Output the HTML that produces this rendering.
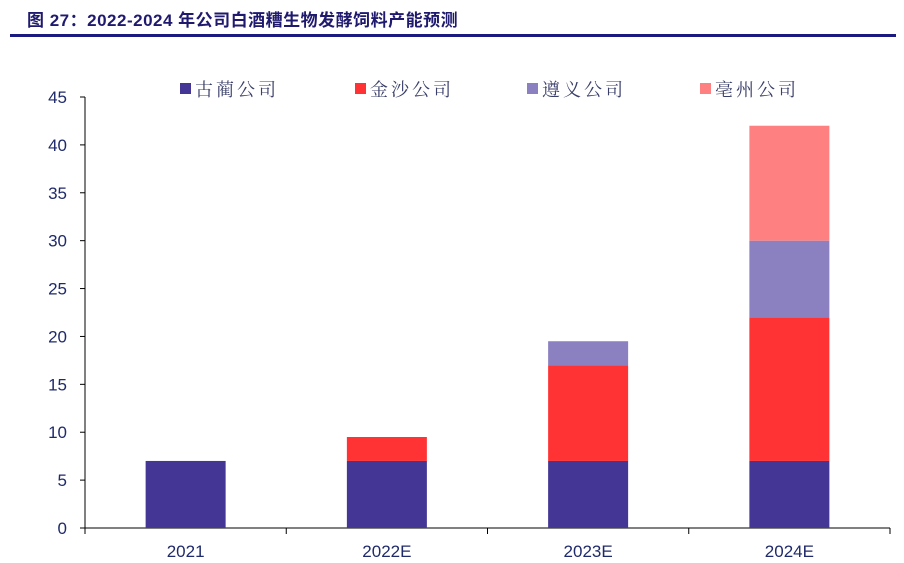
<!DOCTYPE html>
<html><head><meta charset="utf-8"><style>
body{margin:0;background:#fff;width:904px;height:563px;overflow:hidden;font-family:"Liberation Sans","Noto Sans CJK SC",sans-serif}
#title{position:absolute;left:27px;top:6px;font-size:17px;font-weight:bold;color:#1f1a6e;font-family:"Liberation Sans","Noto Sans CJK SC",sans-serif;letter-spacing:0.5px}
#rule{position:absolute;left:10px;top:34px;width:886px;height:3px;background:#1a1a80}
</style></head><body>
<div id="title">图 27：2022-2024 年公司白酒糟生物发酵饲料产能预测</div>
<div id="rule"></div>
<svg id="chart" width="904" height="563" style="position:absolute;left:0;top:0"></svg>
<script>
const categories=["2021","2022E","2023E","2024E"];
const seriesNames=["古蔺公司","金沙公司","遵义公司","亳州公司"];
const gulin=[7,7,7,7];
const jinsha=[0,2.5,10,15];
const zunyi=[0,0,2.5,8];
const bozhou=[0,0,0,12];
const yTicks=[0,5,10,15,20,25,30,35,40,45];
const colors=["#433695","#ff3333","#8b80c0","#ff8080"];
const series=[gulin,jinsha,zunyi,bozhou];
const NS="http://www.w3.org/2000/svg";
const svg=document.getElementById('chart');
const x0=85,x1=890,y0=528,yTop=97,yMax=45;
const y=v=>y0-(v/yMax)*(y0-yTop);
const band=(x1-x0)/categories.length;
const xc=i=>x0+band*(i+0.5);
function mk(t,a){const e=document.createElementNS(NS,t);for(const k in a)e.setAttribute(k,a[k]);svg.appendChild(e);return e;}
let e=mk('line',{x1:x0,y1:yTop,x2:x0,y2:y0,stroke:'#000','stroke-width':1});

e=mk('line',{x1:x0,y1:y0,x2:x1,y2:y0,stroke:'#000','stroke-width':1});

yTicks.forEach(t=>{
 let l=mk('line',{x1:x0-5,y1:y(t),x2:x0,y2:y(t),stroke:'#000'});
 
 let tx=mk('text',{x:x0-18,y:y(t)+6,'text-anchor':'end','font-size':17,fill:'#1f2a6b'});
 tx.textContent=t;
 
});
for(let i=0;i<=categories.length;i++){
 let l=mk('line',{x1:x0+band*i,y1:y0,x2:x0+band*i,y2:y0+6,stroke:'#000'});
 
}
const bw=80;
categories.forEach((c,i)=>{
 let acc=0;
 series.forEach((s,k)=>{
  const v=s[i];if(!v)return;
  const r=mk('rect',{x:xc(i)-bw/2,y:y(acc+v),width:bw,height:y(acc)-y(acc+v),fill:colors[k]});
  
  
  acc+=v;
 });
 let tx=mk('text',{x:xc(i),y:557,'text-anchor':'middle','font-size':17,fill:'#1f2a6b'});
 tx.textContent=c;
 
});
const legX=[180,355,527,700];
seriesNames.forEach((n,k)=>{
 let r=mk('rect',{x:legX[k],y:83,width:11,height:11,fill:colors[k]});
 
 let t=mk('text',{x:legX[k]+15,y:96,'font-size':18,fill:'#3a3f6a','letter-spacing':3,'font-family':'"Noto Serif CJK SC","Noto Sans CJK SC",sans-serif'});
 t.textContent=n;
 
});
</script>
</body></html>
